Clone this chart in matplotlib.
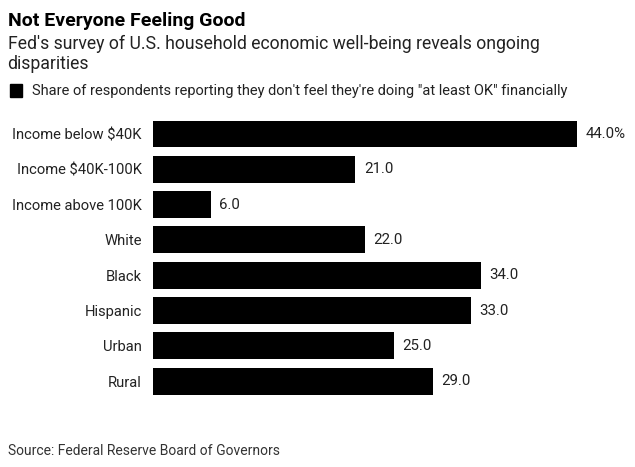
import matplotlib.pyplot as plt
from matplotlib.patches import Rectangle

plt.rcParams['font.family'] = ['Roboto', 'DejaVu Sans']

categories = ['Income below $40K', 'Income $40K-100K', 'Income above 100K',
              'White', 'Black', 'Hispanic', 'Urban', 'Rural']
values = [44.0, 21.0, 6.0, 22.0, 34.0, 33.0, 25.0, 29.0]
value_labels = ['44.0%', '21.0', '6.0', '22.0', '34.0', '33.0', '25.0', '29.0']

fig = plt.figure(figsize=(6.35, 4.67), dpi=100)
ax = fig.add_axes([0.241, 0.146, 0.668, 0.605])

y = range(len(categories))
ax.barh(y, values, height=0.76, color='black')
ax.set_xlim(0, 44)
ax.set_ylim(len(categories) - 0.5, -0.5)
ax.set_yticks(list(y))
ax.set_yticklabels(categories, fontsize=10.6, color='#222222')
ax.tick_params(axis='y', length=0, pad=8)
ax.set_xticks([])
for s in ax.spines.values():
    s.set_visible(False)

for i, (v, lab) in enumerate(zip(values, value_labels)):
    ax.annotate(lab, (v, i), xytext=(6, 0), textcoords='offset points',
                va='center', ha='left', fontsize=10.8, color='#222222')

fig.text(0.012, 0.955, 'Not Everyone Feeling Good', fontsize=14,
         fontweight='bold', va='center', color='black')
fig.text(0.012, 0.905, "Fed's survey of U.S. household economic well-being reveals ongoing",
         fontsize=12.7, va='center', color='#222222')
fig.text(0.012, 0.862, 'disparities', fontsize=12.7, va='center', color='#222222')
fig.patches.append(Rectangle((0.016, 0.792), 0.018, 0.028, transform=fig.transFigure,
                             color='black'))
fig.text(0.051, 0.805, "Share of respondents reporting they don't feel they're doing \"at least OK\" financially",
         fontsize=10.5, va='center', color='#222222')
fig.text(0.012, 0.034, 'Source: Federal Reserve Board of Governors', fontsize=10,
         va='center', color='#333333')

fig.savefig('out.png', dpi=100)
